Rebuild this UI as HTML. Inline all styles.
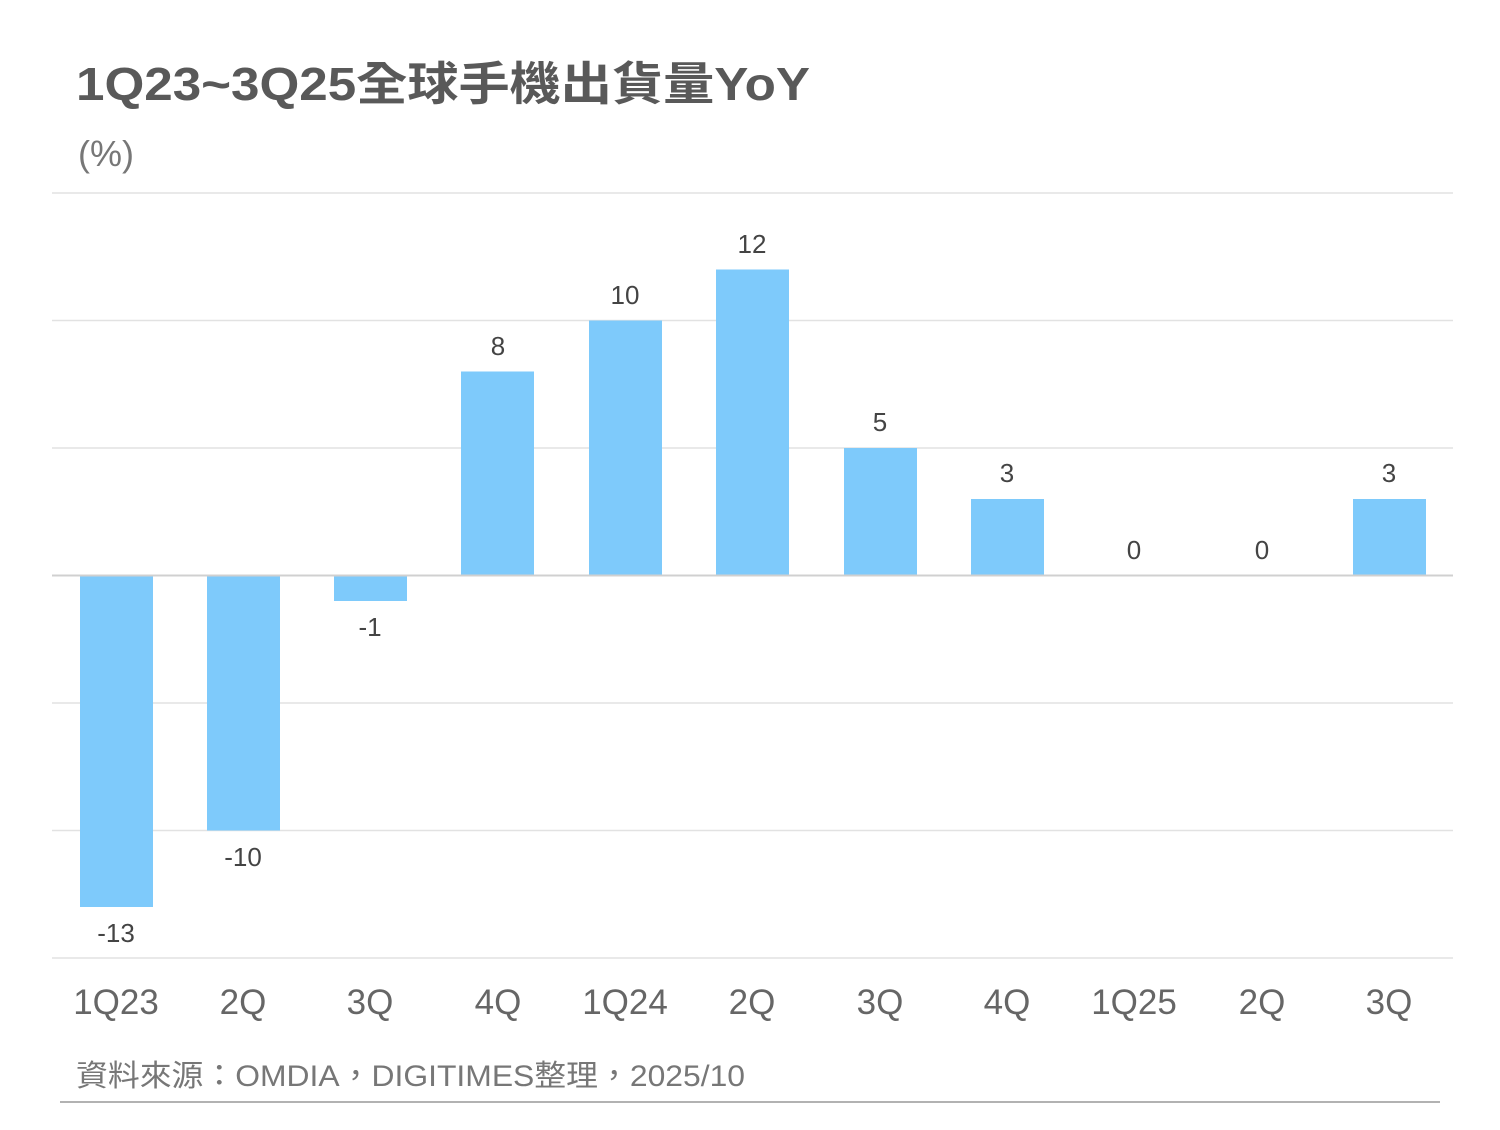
<!DOCTYPE html>
<html><head><meta charset="utf-8"><style>
body{margin:0;background:#fff;}
svg text{font-family:"Liberation Sans","Noto Sans CJK TC",sans-serif;}
</style></head><body>
<svg width="1500" height="1125" xmlns="http://www.w3.org/2000/svg">
<text x="76" y="100" font-size="46" font-weight="bold" fill="#595959" textLength="734" lengthAdjust="spacingAndGlyphs">1Q23~3Q25全球手機出貨量YoY</text>
<text x="78" y="166" font-size="36" fill="#777">(%)</text>
<g stroke="#e2e2e2" stroke-width="1.5">
<line x1="52" x2="1453" y1="193" y2="193"/>
<line x1="52" x2="1453" y1="320.5" y2="320.5"/>
<line x1="52" x2="1453" y1="448" y2="448"/>
<line x1="52" x2="1453" y1="703" y2="703"/>
<line x1="52" x2="1453" y1="830.5" y2="830.5"/>
<line x1="52" x2="1453" y1="958" y2="958"/>
</g>
<g fill="#7ecafb">
<rect x="80" y="575.5" width="73" height="331.5"/>
<rect x="207" y="575.5" width="73" height="255"/>
<rect x="334" y="575.5" width="73" height="25.5"/>
<rect x="461" y="371.5" width="73" height="204"/>
<rect x="589" y="320.5" width="73" height="255"/>
<rect x="716" y="269.5" width="73" height="306"/>
<rect x="844" y="448" width="73" height="127.5"/>
<rect x="971" y="499" width="73" height="76.5"/>
<rect x="1353" y="499" width="73" height="76.5"/>
</g>
<line x1="52" x2="1453" y1="575.5" y2="575.5" stroke="#d0d0d0" stroke-width="2"/>
<g font-size="26" fill="#444" text-anchor="middle">
<text x="116" y="942">-13</text>
<text x="243" y="866">-10</text>
<text x="370" y="636">-1</text>
<text x="498" y="355">8</text>
<text x="625" y="304">10</text>
<text x="752" y="253">12</text>
<text x="880" y="431">5</text>
<text x="1007" y="482">3</text>
<text x="1134" y="559">0</text>
<text x="1262" y="559">0</text>
<text x="1389" y="482">3</text>
</g>
<g font-size="35" fill="#666" text-anchor="middle">
<text x="116" y="1014">1Q23</text>
<text x="243" y="1014">2Q</text>
<text x="370" y="1014">3Q</text>
<text x="498" y="1014">4Q</text>
<text x="625" y="1014">1Q24</text>
<text x="752" y="1014">2Q</text>
<text x="880" y="1014">3Q</text>
<text x="1007" y="1014">4Q</text>
<text x="1134" y="1014">1Q25</text>
<text x="1262" y="1014">2Q</text>
<text x="1389" y="1014">3Q</text>
</g>
<text x="76" y="1086" font-size="30" fill="#777" textLength="669" lengthAdjust="spacingAndGlyphs">資料來源：OMDIA，DIGITIMES整理，2025/10</text>
<line x1="60" x2="1440" y1="1102" y2="1102" stroke="#999" stroke-width="1.5"/>
</svg>
</body></html>
